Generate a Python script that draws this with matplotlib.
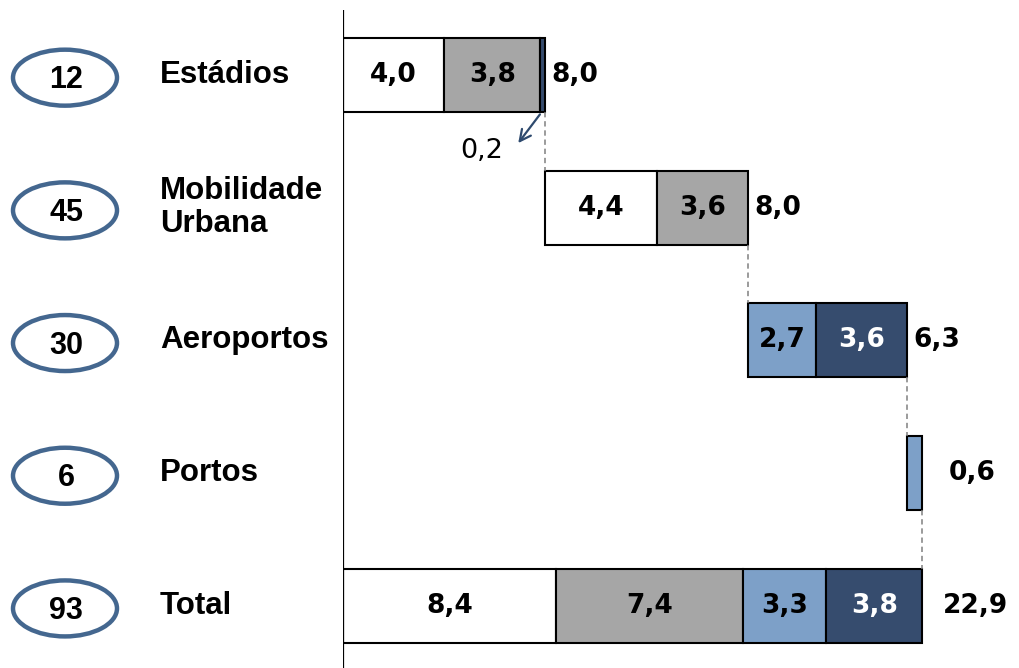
import matplotlib.pyplot as plt
import numpy as np
from matplotlib.patches import Ellipse
from matplotlib.transforms import blended_transform_factory

plt.rcParams['font.family'] = ['Liberation Sans', 'DejaVu Sans']

# data
categories = ['Estádios', 'Mobilidade\nUrbana', 'Aeroportos', 'Portos', 'Total']
counts = [12, 45, 30, 6, 93]
seg_white = [4.0, 4.4, 0.0, 0.0, 8.4]
seg_gray = [3.8, 3.6, 0.0, 0.0, 7.4]
seg_light = [0.0, 0.0, 2.7, 0.6, 3.3]
seg_dark = [0.2, 0.0, 3.6, 0.0, 3.8]
totals = [8.0, 8.0, 6.3, 0.6, 22.9]

segments = [seg_white, seg_gray, seg_light, seg_dark]
colors = ['white', '#A6A6A6', '#7DA0C8', '#364C6E']
text_colors = ['black', 'black', 'black', 'white']

# waterfall starts: each row starts where the previous ended, total from zero
starts = list(np.concatenate([[0], np.cumsum(totals[:3])])) + [0.0]

fig = plt.figure(figsize=(10.2, 6.68), dpi=100)
ax = fig.add_axes([343/1020, 0, 677/1020, 658/668])
ax.set_xlim(0, 677/25.3)
ax.set_ylim(4.469, -0.49)
ax.axis('off')
ax.axvline(0, color='black', lw=1.6)

ypos = np.arange(len(categories))
h = 0.558
numfont = 'DejaVu Sans'

def fmt(v):
    return f'{v:.1f}'.replace('.', ',')

for i in ypos:
    left = starts[i]
    for seg, c, tc in zip(segments, colors, text_colors):
        w = seg[i]
        if w <= 0:
            continue
        ax.barh(i, w, left=left, height=h, color=c, edgecolor='black', linewidth=1.5)
        if w >= 1:
            ax.text(left + w/2, i, fmt(w), ha='center', va='center', fontsize=19,
                    fontweight='bold', color=tc, family=numfont)
        left += w
    end = starts[i] + totals[i]
    pad = 0.25
    if categories[i] == 'Portos':
        pad = 1.05
    elif categories[i] == 'Total':
        pad = 0.8
    ax.text(end + pad, i, fmt(totals[i]), ha='left', va='center', fontsize=19,
            fontweight='bold', family=numfont)
    # dashed connector to the next row
    if i < len(categories) - 1:
        ax.plot([end, end], [i + h/2, i + 1 - h/2], color='#808080', lw=1.1,
                ls=(0, (3.5, 2.5)))

# small 0,2 callout
ax.annotate('', xy=(6.86, 0.53), xytext=(7.85, 0.28),
            arrowprops=dict(arrowstyle='->', color='#2E4A6E', lw=1.6,
                            mutation_scale=20))
ax.text(5.5, 0.57, fmt(seg_dark[0]), ha='center', va='center', fontsize=19.5,
        family=numfont)

# left side: ellipses with counts and category names
tr = blended_transform_factory(fig.transFigure, ax.transData)
for i in ypos:
    e = Ellipse((65/1020, i + 0.02), 104/1020, 56/132.7, transform=tr,
                facecolor='none', edgecolor='#44678F', lw=3.2, clip_on=False)
    fig.add_artist(e)
    fig.text(66/1020, i + 0.04, str(counts[i]), transform=tr, ha='center',
             va='center', fontsize=22, fontweight='bold')
    fig.text(160/1020, i, categories[i], transform=tr, ha='left', va='center',
             fontsize=22.5, fontweight='bold', linespacing=1.15)

fig.savefig('out.png', dpi=100)
